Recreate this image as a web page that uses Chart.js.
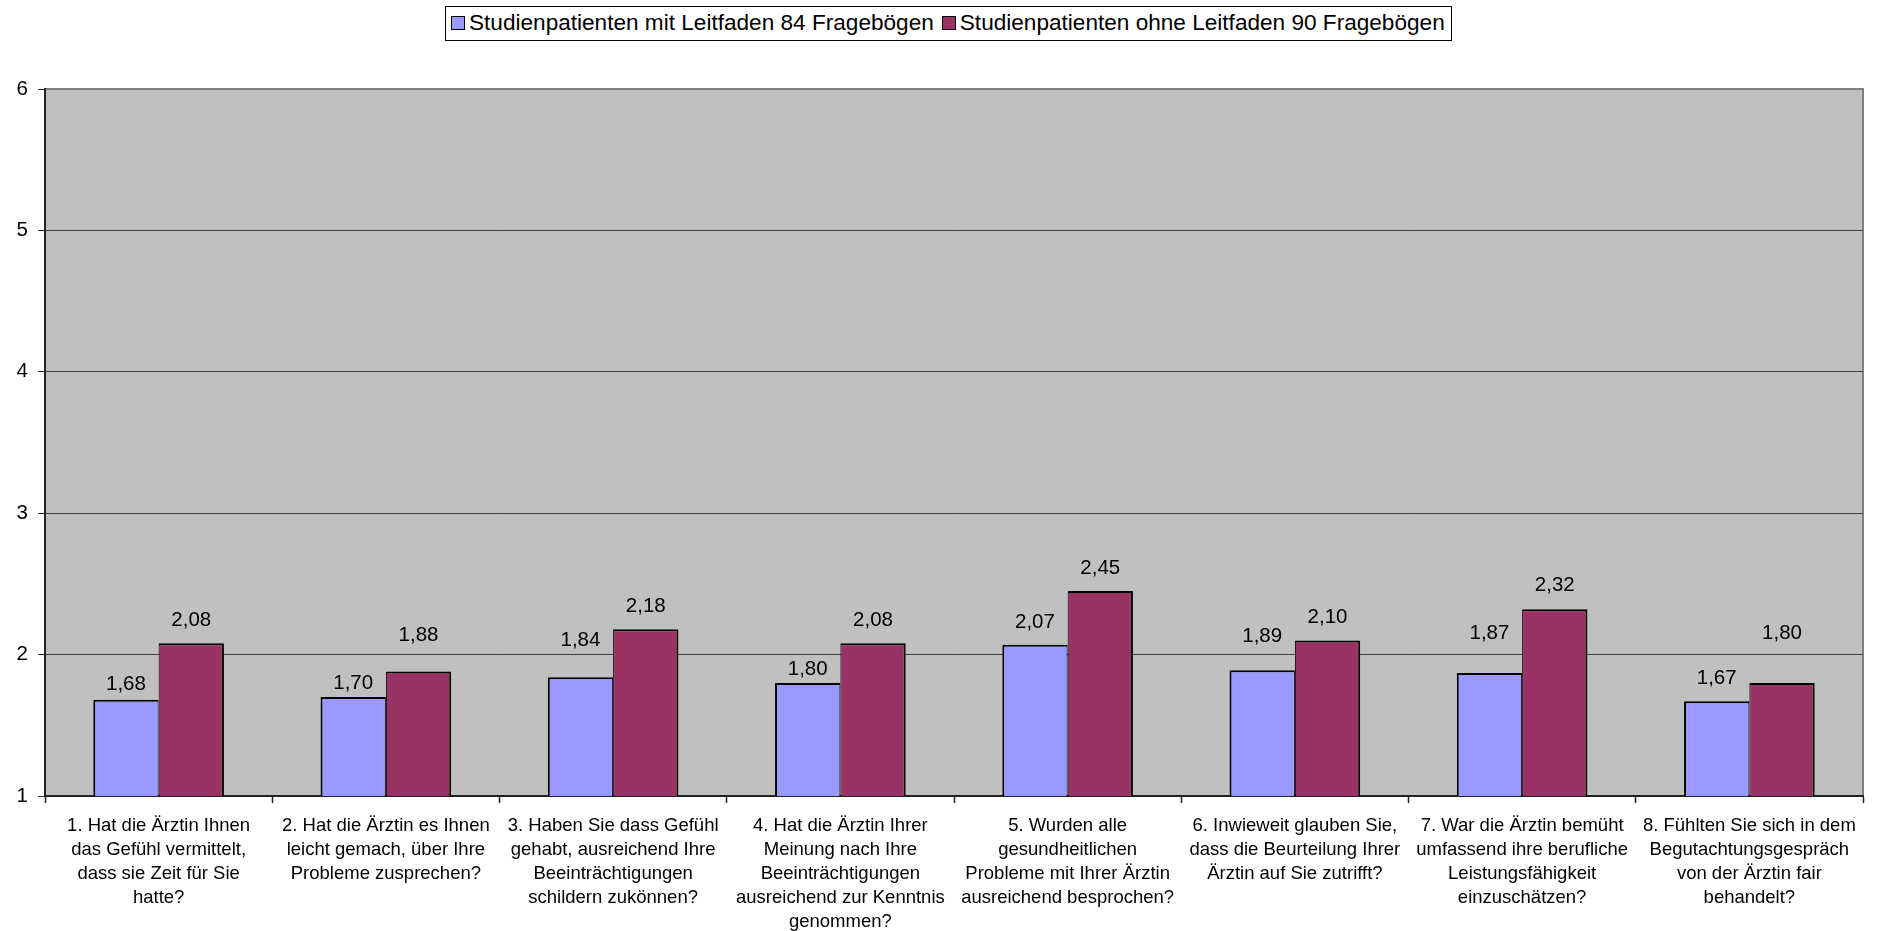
<!DOCTYPE html>
<html lang="de">
<head>
<meta charset="utf-8">
<script src="https://cdn.jsdelivr.net/npm/chart.js@4/dist/chart.umd.min.js"></script>
<style>
  html, body { margin: 0; padding: 0; background: #ffffff; }
  #wrap { position: relative; width: 1884px; height: 931px; }
  #chart { display: block; }
  #legend {
    position: absolute; left: 445px; top: 6px;
    border: 1px solid #000; background: #fff;
    padding: 3px 6px 4px 5px; white-space: nowrap;
    font-family: "Liberation Sans", Arial, sans-serif; font-size: 22.6px; color: #000;
    line-height: 26px;
  }
  #legend .item { display: inline-block; }
  #legend .item + .item { margin-left: 8px; }
  #legend .swatch {
    display: inline-block; width: 12px; height: 12px; border: 1.5px solid #000;
    margin-right: 4px; vertical-align: 0px;
  }
</style>
</head>
<body>
<div id="wrap">
  <canvas id="chart" width="1884" height="931"></canvas>
  <div id="legend"></div>
</div>
<script>
// Questions of the patient survey (one multi-line label per category)
const questions = [
  ["1. Hat die Ärztin Ihnen", "das Gefühl vermittelt,", "dass sie Zeit für Sie", "hatte?"],
  ["2. Hat die Ärztin es Ihnen", "leicht gemach, über Ihre", "Probleme zusprechen?"],
  ["3. Haben Sie dass Gefühl", "gehabt, ausreichend Ihre", "Beeinträchtigungen", "schildern zukönnen?"],
  ["4. Hat die Ärztin Ihrer", "Meinung nach Ihre", "Beeinträchtigungen", "ausreichend zur Kenntnis", "genommen?"],
  ["5. Wurden alle", "gesundheitlichen", "Probleme mit Ihrer Ärztin", "ausreichend besprochen?"],
  ["6. Inwieweit glauben Sie,", "dass die Beurteilung Ihrer", "Ärztin auf Sie zutrifft?"],
  ["7. War die Ärztin bemüht", "umfassend ihre berufliche", "Leistungsfähigkeit", "einzuschätzen?"],
  ["8. Fühlten Sie sich in dem", "Begutachtungsgespräch", "von der Ärztin fair", "behandelt?"]
];

// Series names
const seriesMitName = "Studienpatienten mit Leitfaden 84 Fragebögen";
const seriesOhneName = "Studienpatienten ohne Leitfaden 90 Fragebögen";

// Mean ratings per question
const meanMit  = [1.68, 1.70, 1.84, 1.80, 2.07, 1.89, 1.87, 1.67];
const meanOhne = [2.08, 1.88, 2.18, 2.08, 2.45, 2.10, 2.32, 1.80];

// Value axis
const yMin = 1;
const yMax = 6;
const yStep = 1;

// How far each value label sits above its bar (px)
const labelLiftMit  = [10, 8, 31, 8, 17, 28, 34, 17];
const labelLiftOhne = [17, 31, 17, 17, 17, 17, 18, 44];

const FONT = '"Liberation Sans", Arial, sans-serif';
const colorMit = '#9999FF';
const colorOhne = '#993366';

// Grey plot area with a thin grey frame
const plotBackground = {
  id: 'plotBackground',
  beforeDraw(chart) {
    const { ctx, chartArea: a } = chart;
    ctx.save();
    ctx.fillStyle = '#C0C0C0';
    ctx.fillRect(a.left, a.top, a.right - a.left, a.bottom - a.top);
    ctx.strokeStyle = '#808080';
    ctx.lineWidth = 2;
    ctx.beginPath();
    ctx.moveTo(a.left, a.top);
    ctx.lineTo(a.right, a.top);
    ctx.lineTo(a.right, a.bottom);
    ctx.stroke();
    ctx.restore();
  }
};

// Numeric labels above each bar, German decimal comma
const valueLabels = {
  id: 'valueLabels',
  afterDatasetsDraw(chart) {
    const { ctx } = chart;
    ctx.save();
    ctx.font = '20.5px ' + FONT;
    ctx.fillStyle = '#000';
    ctx.textAlign = 'center';
    ctx.textBaseline = 'alphabetic';
    chart.data.datasets.forEach((ds, di) => {
      const meta = chart.getDatasetMeta(di);
      const lifts = di === 0 ? labelLiftMit : labelLiftOhne;
      meta.data.forEach((bar, i) => {
        const txt = ds.data[i].toFixed(2).replace('.', ',');
        ctx.fillText(txt, bar.x, bar.y - lifts[i]);
      });
    });
    ctx.restore();
  }
};

const chart = new Chart(document.getElementById('chart'), {
  type: 'bar',
  data: {
    labels: questions,
    datasets: [
      {
        label: seriesMitName,
        data: meanMit,
        backgroundColor: colorMit,
        borderColor: '#000',
        borderWidth: { top: 2, left: 2, right: 1, bottom: 0 },
        borderSkipped: false,
        categoryPercentage: 0.575,
        barPercentage: 1.0
      },
      {
        label: seriesOhneName,
        data: meanOhne,
        backgroundColor: colorOhne,
        borderColor: '#000',
        borderWidth: { top: 2, left: 1, right: 2, bottom: 0 },
        borderSkipped: false,
        categoryPercentage: 0.575,
        barPercentage: 1.0
      }
    ]
  },
  options: {
    responsive: false,
    animation: false,
    layout: { padding: { top: 89, right: 21, left: 0, bottom: 0 } },
    plugins: {
      legend: { display: false },
      tooltip: { enabled: false }
    },
    scales: {
      x: {
        grid: {
          display: true, drawOnChartArea: false, drawTicks: true,
          tickLength: 7, tickColor: '#222', tickWidth: 1.5, offset: true
        },
        border: { display: true, color: '#222', width: 2 },
        ticks: {
          font: { family: FONT, size: 18.5, lineHeight: 1.3 },
          color: '#000', padding: 11, maxRotation: 0, minRotation: 0, autoSkip: false
        },
        afterFit(scale) { scale.height = 135; }
      },
      y: {
        min: yMin, max: yMax,
        ticks: {
          stepSize: yStep,
          font: { family: FONT, size: 20.5 },
          color: '#000', padding: 10
        },
        grid: {
          color: (c) => (c.tick && c.tick.value === yMax) ? '#808080' : '#404040',
          lineWidth: 1, tickLength: 7, tickColor: '#222'
        },
        border: { display: true, color: '#222', width: 2 },
        afterFit(scale) { scale.width = 45; }
      }
    }
  },
  plugins: [plotBackground, valueLabels]
});

// Boxed legend above the plot
const legend = document.getElementById('legend');
chart.data.datasets.forEach((ds) => {
  const item = document.createElement('span');
  item.className = 'item';
  const sw = document.createElement('span');
  sw.className = 'swatch';
  sw.style.background = ds.backgroundColor;
  item.appendChild(sw);
  item.appendChild(document.createTextNode(ds.label));
  legend.appendChild(item);
});
</script>
</body>
</html>
